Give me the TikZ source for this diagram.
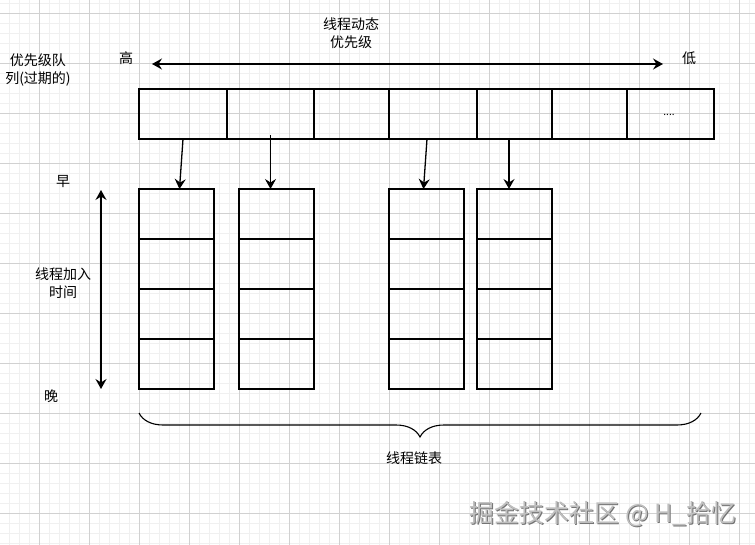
\documentclass[tikz,border=0pt]{standalone}
\usepackage{fontspec}
\setmainfont{Noto Sans CJK SC}
\usetikzlibrary{positioning,arrows.meta,decorations.pathreplacing}

\begin{document}
\begin{tikzpicture}[x=1pt,y=-1pt,
    cell/.style={draw, line width=1.2pt, minimum height=50pt, inner sep=0pt, outer sep=0pt},
    link/.style={line width=1.3pt, -{Stealth[length=10pt,width=11pt,inset=3.5pt]}},
    both/.style={line width=1.4pt, {Stealth[length=10pt,width=11pt,inset=3.5pt]}-{Stealth[length=10pt,width=11pt,inset=3.5pt]}},
    label/.style={inner sep=1pt, font=\fontsize{14}{18}\selectfont, align=center}]
  \useasboundingbox (0,0) rectangle (755,545);
  \fill[white] (0,0) rectangle (755,545);

  % Light grid
  \foreach \x in {9,19,...,749} \draw[black!6, line width=0.8pt] (\x,0) -- (\x,545);
  \foreach \y in {3,13,...,543} \draw[black!6, line width=0.8pt] (0,\y) -- (755,\y);
  \foreach \x in {39,89,...,739} \draw[black!18, line width=0.9pt] (\x,0) -- (\x,545);
  \foreach \y in {13,63,...,513} \draw[black!18, line width=0.9pt] (0,\y) -- (755,\y);

  % Priority queue row
  \node[cell, minimum width=88pt, anchor=north west] (p1) at (139,89) {};
  \node[cell, minimum width=87pt, right=0pt of p1] (p2) {};
  \node[cell, minimum width=75pt, right=0pt of p2] (p3) {};
  \node[cell, minimum width=88pt, right=0pt of p3] (p4) {};
  \node[cell, minimum width=75pt, right=0pt of p4] (p5) {};
  \node[cell, minimum width=75pt, right=0pt of p5] (p6) {};
  \node[cell, minimum width=87pt, right=0pt of p6] (p7) {};
  \node[font=\fontsize{10}{12}\selectfont] (dots) at (669,115) {....};

  % Thread lists
  \node[cell, minimum width=75pt, anchor=north west] (a1) at (139,189) {};
  \node[cell, minimum width=75pt, below=0pt of a1] (a2) {};
  \node[cell, minimum width=75pt, below=0pt of a2] (a3) {};
  \node[cell, minimum width=75pt, below=0pt of a3] (a4) {};

  \node[cell, minimum width=75pt, anchor=north west] (b1) at (239,189) {};
  \node[cell, minimum width=75pt, below=0pt of b1] (b2) {};
  \node[cell, minimum width=75pt, below=0pt of b2] (b3) {};
  \node[cell, minimum width=75pt, below=0pt of b3] (b4) {};

  \node[cell, minimum width=75pt, anchor=north west] (c1) at (389,189) {};
  \node[cell, minimum width=75pt, below=0pt of c1] (c2) {};
  \node[cell, minimum width=75pt, below=0pt of c2] (c3) {};
  \node[cell, minimum width=75pt, below=0pt of c3] (c4) {};

  \node[cell, minimum width=75pt, anchor=north west] (d1) at (477,189) {};
  \node[cell, minimum width=75pt, below=0pt of d1] (d2) {};
  \node[cell, minimum width=75pt, below=0pt of d2] (d3) {};
  \node[cell, minimum width=75pt, below=0pt of d3] (d4) {};

  % Queue entries point to their lists
  \draw[link] (p1.south) -- ([xshift=3pt]a1.north);
  \draw[link] ([yshift=4pt]p2.south) -- (p2.south |- b1.north);
  \draw[link] ([xshift=-6pt]p4.south) -- ([xshift=-3pt]c1.north);
  \draw[link] ([xshift=-5.5pt]p5.south) -- ([xshift=-5.5pt]d1.north);

  % Dynamic priority axis
  \coordinate (arrL) at (152,64);
  \coordinate (arrR) at (663,64);
  \draw[both] (arrL) -- (arrR);
  \node[label] (hi) at (126,58) {高};
  \node[label] (lo) at (689,58) {低};
  \node[label] (prio) at (351,33) {线程动态\\优先级};
  \node[label] (queue) at (38,70) {优先级队\\列(过期的)};

  % Join time axis
  \coordinate (timeT) at (101,190);
  \coordinate (timeB) at (101,389);
  \draw[both] (timeT) -- (timeB);
  \node[label] (early) at (63,182) {早};
  \node[label] (late) at (51,396) {晚};
  \node[label] (jointime) at (63,283) {线程加入\\时间};

  % Brace under the lists
  \draw[line width=1.1pt, decorate, decoration={brace, mirror, amplitude=24pt}] (139,413) -- (701,413);
  \node[label] (list) at (414,458) {线程链表};

  % Watermark (embossed)
  \node[font=\fontsize{25}{30}\selectfont, text=black!55] (markshadow) at (604,515) {掘金技术社区 @ H\_拾忆};
  \node[font=\fontsize{25}{30}\selectfont, text=black!25] (mark) at (603,514) {掘金技术社区 @ H\_拾忆};
\end{tikzpicture}
\end{document}
